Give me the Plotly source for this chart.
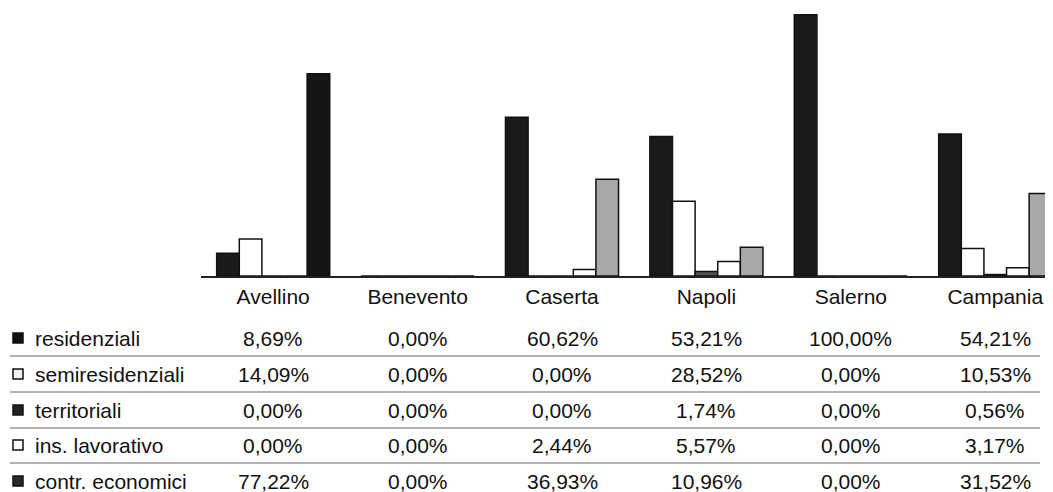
import plotly.graph_objects as go

categories = ["Avellino", "Benevento", "Caserta", "Napoli", "Salerno", "Campania"]
series_names = ["residenziali", "semiresidenziali", "territoriali", "ins. lavorativo", "contr. economici"]
residenziali = [8.69, 0.00, 60.62, 53.21, 100.00, 54.21]
semiresidenziali = [14.09, 0.00, 0.00, 28.52, 0.00, 10.53]
territoriali = [0.00, 0.00, 0.00, 1.74, 0.00, 0.56]
ins_lavorativo = [0.00, 0.00, 2.44, 5.57, 0.00, 3.17]
contr_economici = [77.22, 0.00, 36.93, 10.96, 0.00, 31.52]

series_values = [residenziali, semiresidenziali, territoriali, ins_lavorativo, contr_economici]
series_colors = [
    "#1a1a1a",
    "#ffffff",
    "#555555",
    "#ffffff",
    ["#151515", "#a8a8a8", "#a8a8a8", "#a8a8a8", "#a8a8a8", "#a8a8a8"],
]
swatch_colors = ["#111111", "#f2f2f2", "#222222", "#ffffff", "#2a2a2a"]

FONT = "Liberation Sans, Arial, sans-serif"
FS = 21
W, H = 1045, 484   # page body has an 8px margin
OFF = 8


def px_x(s):
    return (s - OFF) / W


def px_y(s):
    return 1 - (s - OFF) / H


fig = go.Figure()
for name, vals, col in zip(series_names, series_values, series_colors):
    fig.add_trace(go.Bar(
        x=categories, y=vals, name=name,
        marker=dict(color=col, line=dict(color="#111111", width=1.5)),
    ))

row_y = [338, 374, 410, 445, 481]
for i, (name, vals) in enumerate(zip(series_names, series_values)):
    py = px_y(row_y[i])
    fig.add_shape(type="rect", xref="paper", yref="paper",
                  x0=px_x(13), x1=px_x(23), y0=py - 5 / H, y1=py + 5 / H,
                  fillcolor=swatch_colors[i], line=dict(color="#111111", width=1.5))
    fig.add_annotation(
        x=px_x(33), y=py, xref="paper", yref="paper", xanchor="left", yanchor="middle",
        text=name, showarrow=False, font=dict(family=FONT, size=FS, color="#111111"),
    )
    for cat, v in zip(categories, vals):
        fig.add_annotation(
            x=cat, y=py, xref="x", yref="paper", xanchor="center", yanchor="middle",
            text=f"{v:.2f}".replace(".", ",") + "%",
            showarrow=False, font=dict(family=FONT, size=FS, color="#111111"),
        )

for ly in [356, 392, 428, 463]:
    py = px_y(ly)
    fig.add_shape(type="line", xref="paper", yref="paper", x0=px_x(10), x1=px_x(1040), y0=py, y1=py,
                  line=dict(color="#666666", width=1))

fig.update_layout(
    width=W, height=H,
    margin=dict(l=0, r=0, t=0, b=0),
    paper_bgcolor="white", plot_bgcolor="white",
    barmode="group", bargap=0.217, bargroupgap=0.0,
    showlegend=False,
    font=dict(family=FONT, size=FS, color="#111111"),
    xaxis=dict(domain=[px_x(201), 1.0], range=[-0.5, 5.4], showline=True, linecolor="#222222",
               linewidth=1.5, ticks="", showgrid=False,
               tickfont=dict(family=FONT, size=FS, color="#111111"), ticklabelstandoff=1),
    yaxis=dict(domain=[px_y(276), px_y(14)], range=[0, 100], visible=False, showgrid=False),
)

fig.write_html("out.html")
